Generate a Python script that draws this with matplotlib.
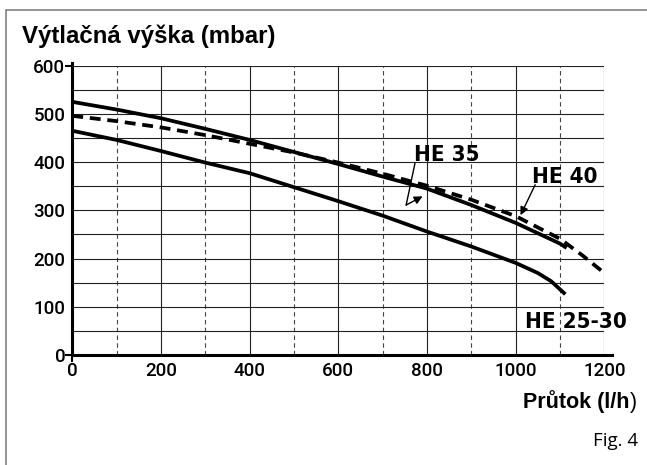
import matplotlib
matplotlib.use("Agg")
import matplotlib.pyplot as plt
from matplotlib.patches import Rectangle
from matplotlib import font_manager

# pump curves: flow (l/h) vs head (mbar)
he2530_q = [0, 100, 200, 300, 400, 500, 600, 700, 800, 900, 1000, 1050, 1080, 1112]
he2530_h = [465, 446, 423, 399, 377, 348, 319, 289, 256, 225, 191, 170, 153, 126]

he35_q = [0, 100, 200, 300, 400, 500, 600, 700, 800, 900, 1000, 1100, 1115]
he35_h = [525, 509, 491, 469, 446, 421, 396, 370, 345, 311, 274, 231, 222]

he40_q = [0, 100, 200, 300, 400, 500, 600, 700, 800, 900, 1000, 1100, 1150, 1200]
he40_h = [496, 485, 472, 456, 438, 420, 399, 376, 351, 322, 288, 241, 207, 170]

x_major = [0, 200, 400, 600, 800, 1000, 1200]
x_minor = [100, 300, 500, 700, 900, 1100]
y_major = [0, 100, 200, 300, 400, 500, 600]
y_minor = [50, 150, 250, 350, 450, 550]

# look for a condensed face for the curve labels
cond = None
for f in font_manager.fontManager.ttflist:
    if ("Narrow" in f.name or "Condensed" in f.name or f.stretch in ("condensed", "semi-condensed")):
        cond = f
        break
if cond is not None:
    lab_font = dict(fontproperties=font_manager.FontProperties(fname=cond.fname, size=16,
                                                               weight="bold"))
else:
    lab_font = dict(family="Liberation Sans", weight="bold", fontsize=15.5)

fig = plt.figure(figsize=(6.47, 4.65), dpi=100)
ax = fig.add_axes([0.11175, 0.23656, 0.8223, 0.6222])

fig.patches.append(Rectangle((0.0088, -0.5), 2.0, 1.4785, transform=fig.transFigure,
                             fill=False, edgecolor="#777777", linewidth=1.1))

ax.set_xlim(0, 1200)
ax.set_ylim(0, 600)
ax.set_xticks(x_major)
ax.set_xticks(x_minor, minor=True)
ax.set_yticks(y_major)
ax.set_yticks(y_minor, minor=True)

ax.grid(which="major", color="#222222", linewidth=0.8)
ax.yaxis.grid(True, which="minor", color="#222222", linewidth=0.8)
ax.xaxis.grid(True, which="minor", color="#444444", linewidth=0.8, linestyle=(0, (4, 3)))
ax.set_axisbelow(True)

for s in ["top", "right"]:
    ax.spines[s].set_visible(False)
ax.spines["left"].set_linewidth(2.2)
ax.spines["bottom"].set_linewidth(2.2)
ax.spines["left"].set_bounds(0, 606)
ax.spines["bottom"].set_bounds(0, 1217)

ax.tick_params(which="both", length=0, pad=5, labelsize=13.5)
for lab in ax.get_xticklabels() + ax.get_yticklabels():
    lab.set_family("Roboto")
    lab.set_weight("medium")
for t in [ax.yaxis.get_major_ticks()[0], ax.yaxis.get_major_ticks()[-1], ax.xaxis.get_major_ticks()[0]]:
    t.tick1line.set_markersize(5)
    t.tick1line.set_markeredgewidth(1.5)

ax.plot(he2530_q, he2530_h, color="black", linewidth=2.7, solid_capstyle="butt", zorder=3)
ax.plot(he35_q, he35_h, color="black", linewidth=2.7, solid_capstyle="butt", zorder=3)
ax.plot(he40_q, he40_h, color="black", linewidth=2.7, linestyle=(0, (2.9, 1.8)),
        dash_capstyle="butt", zorder=3, clip_on=False)

ax.text(845, 403, "HE 35", ha="center", va="baseline", **lab_font)
ax.text(1111, 356, "HE 40", ha="center", va="baseline", **lab_font)
ax.text(1136, 55, "HE 25-30", ha="center", va="baseline", clip_on=False, **lab_font)

ax.annotate("", xy=(753, 311), xytext=(773, 398),
            arrowprops=dict(arrowstyle="-", color="black", lw=1.0, shrinkA=0, shrinkB=0))
ax.annotate("", xy=(790, 329), xytext=(753, 311),
            arrowprops=dict(arrowstyle="-|>", color="black", lw=1.0, shrinkA=0, shrinkB=0,
                            mutation_scale=12))
ax.annotate("", xy=(1011, 290), xytext=(1044, 353),
            arrowprops=dict(arrowstyle="-|>", color="black", lw=1.0, shrinkA=0, shrinkB=0,
                            mutation_scale=12))

fig.text(0.0335, 0.9069, "Výtlačná výška (mbar)", family="Liberation Sans", weight="bold",
         fontsize=17.3, ha="left", va="baseline")

r = fig.canvas.get_renderer()
paren = fig.text(0.984, 0.1226, ")", family="Liberation Sans", fontsize=15.5,
                 ha="right", va="baseline")
pw = paren.get_window_extent(r).width / fig.bbox.width
fig.text(0.984 - pw, 0.1226, "Průtok (l/h", family="Liberation Sans", weight="bold",
         fontsize=15.5, ha="right", va="baseline")

fig.text(0.986, 0.0409, "Fig. 4", family="Open Sans", fontsize=13.5, ha="right", va="baseline")

fig.savefig("out.png", dpi=100)
